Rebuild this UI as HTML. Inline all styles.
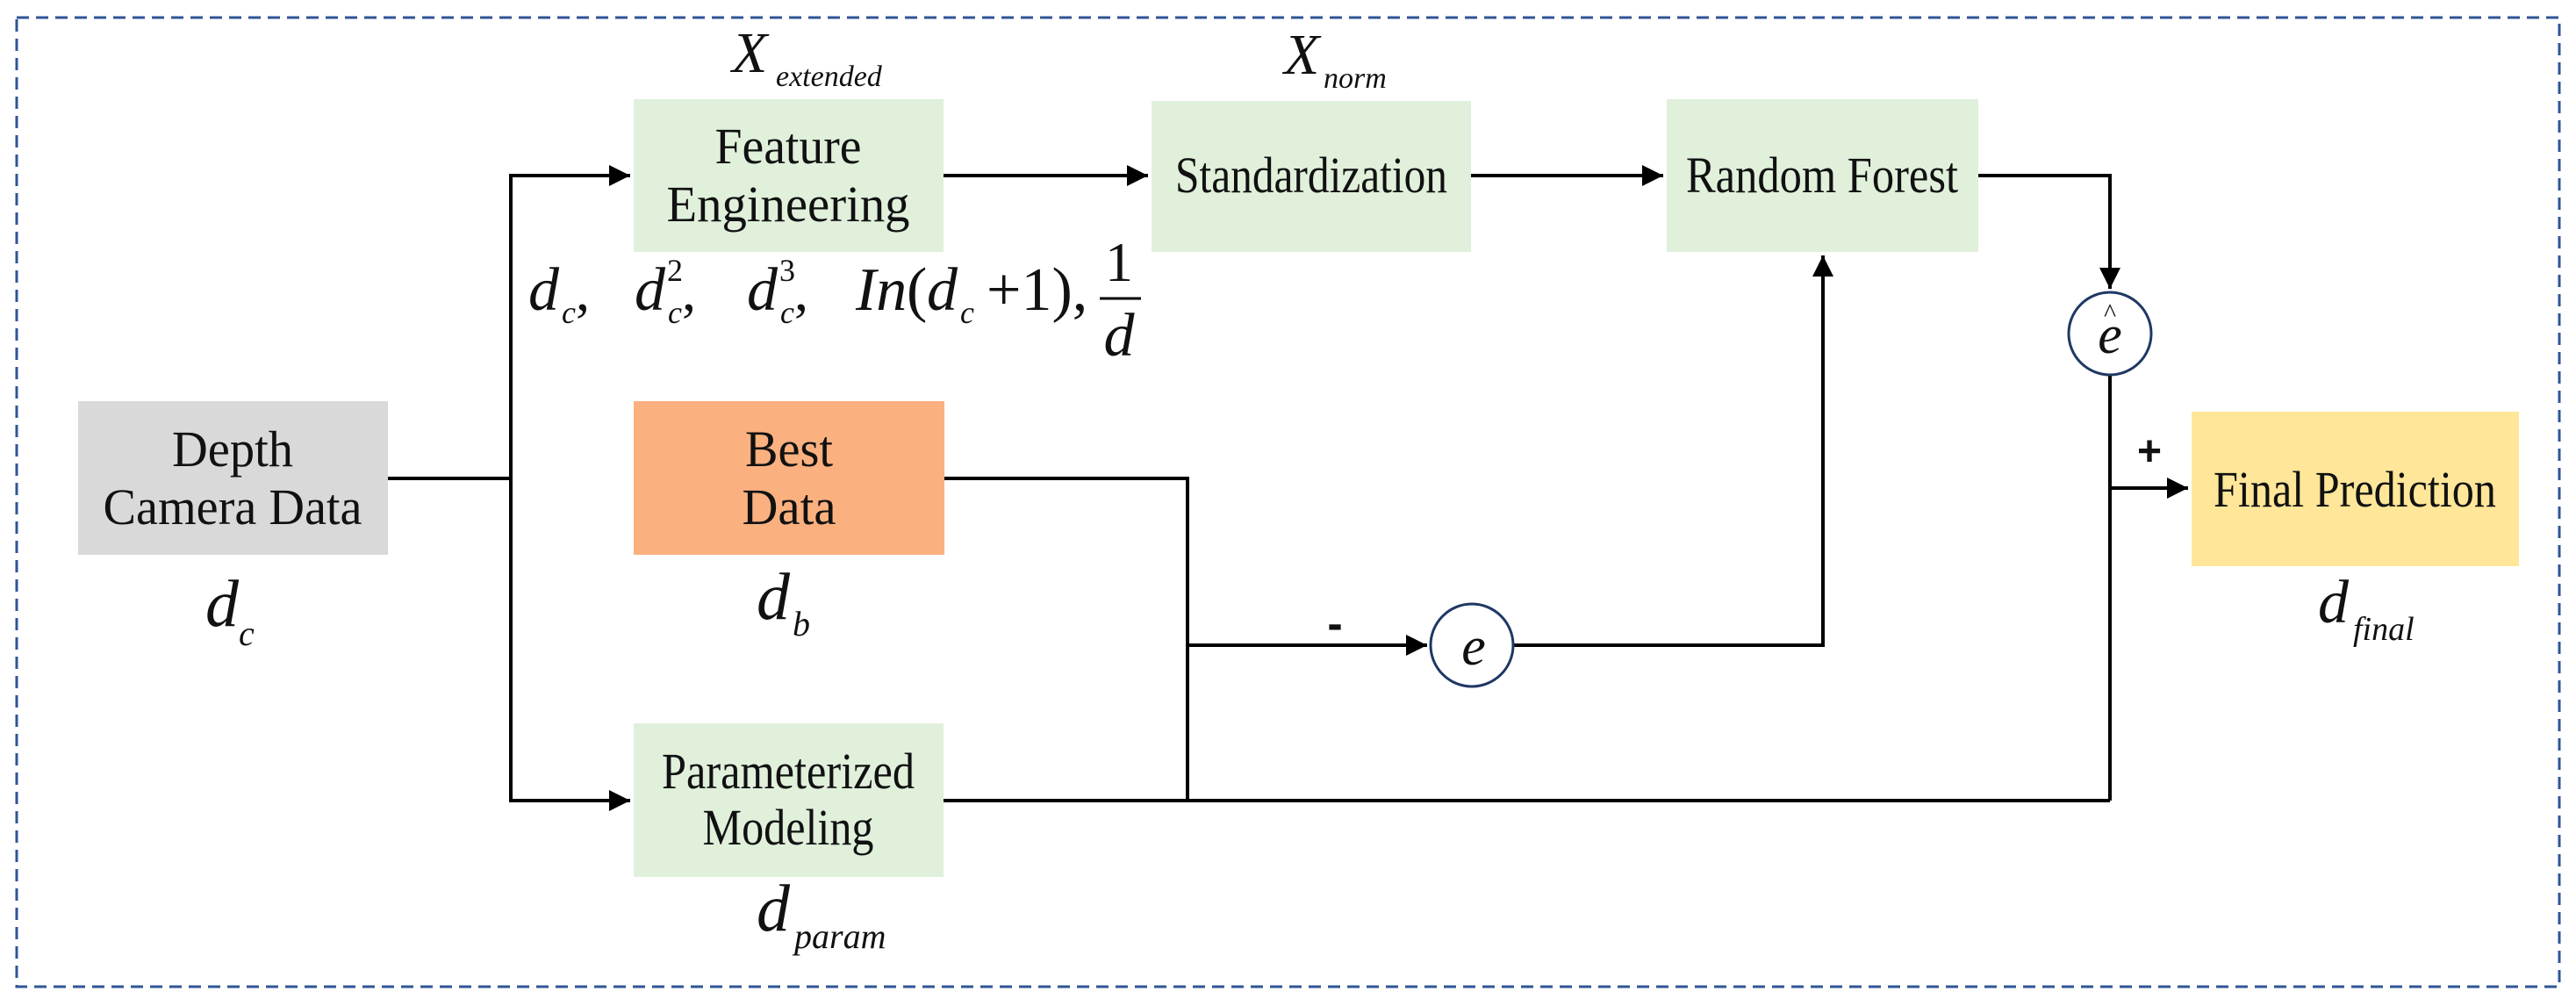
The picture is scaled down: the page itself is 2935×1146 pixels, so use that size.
<!DOCTYPE html>
<html><head><meta charset="utf-8"><style>
html,body{margin:0;padding:0;background:#fff;}
svg{display:block;}
text{font-family:"Liberation Serif",serif;fill:#111;}
.b{font-size:58px;text-anchor:middle;}
.i{font-style:italic;}
.u{font-style:normal;}
</style></head><body>
<svg width="2935" height="1146" viewBox="0 0 2935 1146" xmlns="http://www.w3.org/2000/svg">
<defs><marker id="a" viewBox="0 0 10 10" refX="10" refY="5" markerWidth="6" markerHeight="6" markerUnits="strokeWidth" orient="auto"><path d="M0,0 L10,5 L0,10 z" fill="#000"/></marker></defs>
<rect x="19" y="20" width="2897" height="1104" fill="none" stroke="#2f5597" stroke-width="3" stroke-dasharray="14 8"/>
<rect x="89" y="457" width="353" height="175" fill="#d9d9d9"/>
<rect x="722" y="113" width="353" height="174" fill="#e0f0db"/>
<rect x="1312" y="115" width="364" height="172" fill="#e0f0db"/>
<rect x="1899" y="113" width="355" height="174" fill="#e0f0db"/>
<rect x="722" y="457" width="354" height="175" fill="#fbb07f"/>
<rect x="722" y="824" width="353" height="175" fill="#e0f0db"/>
<rect x="2497" y="469" width="373" height="176" fill="#ffe699"/>
<g stroke="#000" stroke-width="4" fill="none">
<line x1="442" y1="545" x2="582" y2="545"/>
<polyline points="582,912 582,200 718,200" marker-end="url(#a)"/>
<polyline points="582,545 582,912 718,912" marker-end="url(#a)"/>
<line x1="1075" y1="200" x2="1308" y2="200" marker-end="url(#a)"/>
<line x1="1676" y1="200" x2="1895" y2="200" marker-end="url(#a)"/>
<polyline points="2254,200 2404,200 2404,329" marker-end="url(#a)"/>
<line x1="2404" y1="428" x2="2404" y2="912"/>
<line x1="2404" y1="556" x2="2493" y2="556" marker-end="url(#a)"/>
<polyline points="1076,545 1353,545 1353,912"/>
<line x1="1075" y1="912" x2="2404" y2="912"/>
<line x1="1353" y1="735" x2="1626" y2="735" marker-end="url(#a)"/>
<polyline points="1725,735 2077,735 2077,291" marker-end="url(#a)"/>
</g>
<circle cx="2404" cy="380" r="47" fill="#fff" stroke="#1f3864" stroke-width="3"/>
<circle cx="1677" cy="735" r="47" fill="#fff" stroke="#1f3864" stroke-width="3"/>
<text x="2404" y="402" class="i" font-size="62" text-anchor="middle">e</text>
<text x="2404" y="366" font-size="30" text-anchor="middle">^</text>
<text x="1679" y="757" class="i" font-size="62" text-anchor="middle">e</text>
<text x="2449" y="530" font-size="48" font-weight="bold" text-anchor="middle" style="font-family:'Liberation Sans',sans-serif">+</text>
<text x="1521" y="728" font-size="52" font-weight="bold" text-anchor="middle" style="font-family:'Liberation Sans',sans-serif">-</text>
<text class="b" x="265" y="531" textLength="138" lengthAdjust="spacingAndGlyphs">Depth</text>
<text class="b" x="265" y="597" textLength="295" lengthAdjust="spacingAndGlyphs">Camera Data</text>
<text class="b" x="898" y="186" textLength="167" lengthAdjust="spacingAndGlyphs">Feature</text>
<text class="b" x="898" y="252" textLength="277" lengthAdjust="spacingAndGlyphs">Engineering</text>
<text class="b" x="1494" y="219" textLength="310" lengthAdjust="spacingAndGlyphs">Standardization</text>
<text class="b" x="2076" y="219" textLength="310" lengthAdjust="spacingAndGlyphs">Random Forest</text>
<text class="b" x="899" y="531" textLength="100" lengthAdjust="spacingAndGlyphs">Best</text>
<text class="b" x="899" y="597" textLength="107" lengthAdjust="spacingAndGlyphs">Data</text>
<text class="b" x="898" y="898" font-size="54" textLength="288" lengthAdjust="spacingAndGlyphs">Parameterized</text>
<text class="b" x="898" y="962" font-size="54" textLength="195" lengthAdjust="spacingAndGlyphs">Modeling</text>
<text class="b" x="2683" y="577" textLength="322" lengthAdjust="spacingAndGlyphs">Final Prediction</text>
<text x="834" y="82" class="i" font-size="66">X</text>
<text x="884" y="98" class="i" font-size="34">extended</text>
<text x="1463" y="84" class="i" font-size="66">X</text>
<text x="1508" y="100" class="i" font-size="34">norm</text>
<text x="602" y="353" class="i" font-size="70">d</text><text x="640" y="368" class="i" font-size="36">c</text><text x="656" y="353" font-size="64">,</text>
<text x="723" y="353" class="i" font-size="70">d</text><text x="761" y="368" class="i" font-size="36">c</text><text x="760" y="320" font-size="36">2</text><text x="777" y="353" font-size="64">,</text>
<text x="851" y="353" class="i" font-size="70">d</text><text x="889" y="368" class="i" font-size="36">c</text><text x="888" y="320" font-size="36">3</text><text x="905" y="353" font-size="64">,</text>
<text x="975" y="353" class="i" font-size="70">In</text><text x="1033" y="353" font-size="70">(</text><text x="1056" y="353" class="i" font-size="70">d</text><text x="1094" y="368" class="i" font-size="36">c</text><text x="1124" y="353" font-size="70">+1),</text>
<text x="1275" y="320" font-size="64" text-anchor="middle">1</text>
<line x1="1253" y1="340" x2="1300" y2="340" stroke="#000" stroke-width="3"/>
<text x="1275" y="405" class="i" font-size="70" text-anchor="middle">d</text>
<text x="234" y="713" class="i" font-size="76">d</text><text x="272" y="735" class="i" font-size="40">c</text>
<text x="862" y="705" class="i" font-size="76">d</text><text x="903" y="724" class="i" font-size="40">b</text>
<text x="862" y="1060" class="i" font-size="76">d</text><text x="905" y="1080" class="i" font-size="40">param</text>
<text x="2641" y="709" class="i" font-size="70">d</text><text x="2681" y="729" class="i" font-size="38">final</text>
</svg>
</body></html>
